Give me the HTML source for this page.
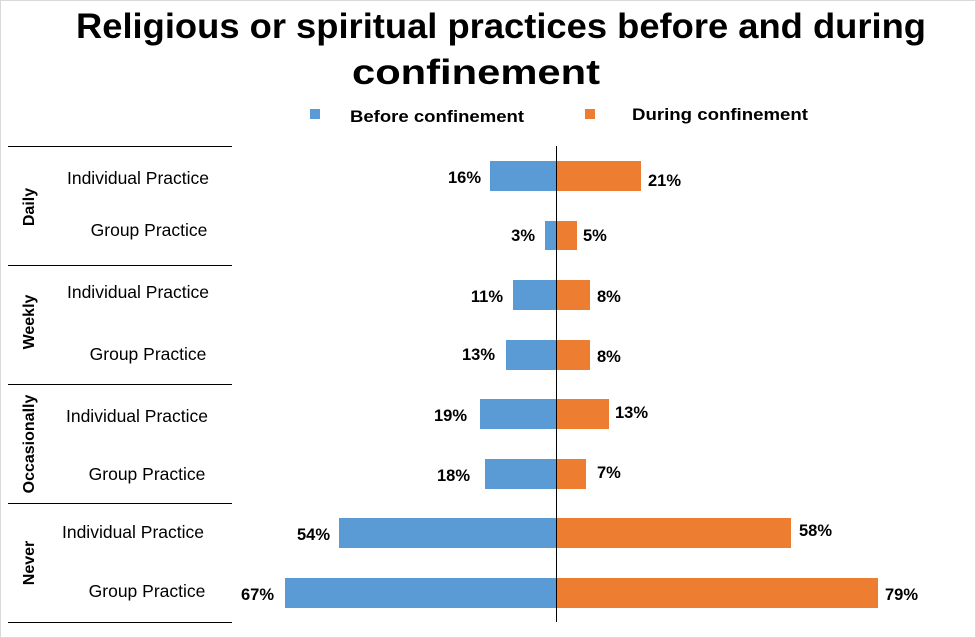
<!DOCTYPE html>
<html><head><meta charset="utf-8"><style>
body{margin:0;background:#fff}
svg{display:block;font-family:"Liberation Sans",sans-serif}
</style></head><body>
<svg width="976" height="638" viewBox="0 0 976 638">
<rect x="0.5" y="0.5" width="975" height="637" fill="#fff" stroke="#d9d9d9"/>
<text x="76" y="38" font-size="35" font-weight="bold" textLength="850" lengthAdjust="spacingAndGlyphs">Religious or spiritual practices before and during</text>
<text x="352" y="84" font-size="35" font-weight="bold" textLength="248" lengthAdjust="spacingAndGlyphs">confinement</text>
<rect x="310" y="109" width="10" height="10" fill="#5b9bd5"/>
<text x="350" y="122" font-size="17" font-weight="bold" textLength="174" lengthAdjust="spacingAndGlyphs">Before confinement</text>
<rect x="585" y="109" width="10" height="10" fill="#ed7d31"/>
<text x="632" y="120" font-size="17" font-weight="bold" textLength="176" lengthAdjust="spacingAndGlyphs">During confinement</text>
<g stroke="#000" stroke-width="1">
<line x1="8" y1="146.5" x2="232" y2="146.5"/>
<line x1="8" y1="265.5" x2="232" y2="265.5"/>
<line x1="8" y1="384.5" x2="232" y2="384.5"/>
<line x1="8" y1="503.5" x2="232" y2="503.5"/>
<line x1="8" y1="622.5" x2="232" y2="622.5"/>
</g>
<g font-size="16" font-weight="bold" text-anchor="middle">
<text transform="translate(34,207) rotate(-90)">Daily</text>
<text transform="translate(34,322) rotate(-90)">Weekly</text>
<text transform="translate(34,444) rotate(-90)">Occasionally</text>
<text transform="translate(34,563) rotate(-90)">Never</text>
</g>
<g font-size="17.5" text-anchor="middle">
<text x="138" y="184">Individual Practice</text>
<text x="149" y="236">Group Practice</text>
<text x="138" y="298">Individual Practice</text>
<text x="148" y="360">Group Practice</text>
<text x="137" y="422">Individual Practice</text>
<text x="147" y="480">Group Practice</text>
<text x="133" y="538">Individual Practice</text>
<text x="147" y="597">Group Practice</text>
</g>
<g fill="#5b9bd5">
<rect x="490" y="161" width="66" height="30"/>
<rect x="545" y="221" width="11" height="29"/>
<rect x="513" y="280" width="43" height="30"/>
<rect x="506" y="340" width="50" height="30"/>
<rect x="480" y="399" width="76" height="30"/>
<rect x="485" y="459" width="71" height="30"/>
<rect x="339" y="518" width="217" height="30"/>
<rect x="285" y="578" width="271" height="30"/>
</g>
<g fill="#ed7d31">
<rect x="556" y="161" width="85" height="30"/>
<rect x="556" y="221" width="21" height="29"/>
<rect x="556" y="280" width="34" height="30"/>
<rect x="556" y="340" width="34" height="30"/>
<rect x="556" y="399" width="53" height="30"/>
<rect x="556" y="459" width="30" height="30"/>
<rect x="556" y="518" width="235" height="30"/>
<rect x="556" y="578" width="322" height="30"/>
</g>
<line x1="556.5" y1="146" x2="556.5" y2="622" stroke="#000"/>
<g font-size="16.5" font-weight="bold" text-anchor="end">
<text x="481" y="183">16%</text>
<text x="535" y="241">3%</text>
<text x="503" y="302">11%</text>
<text x="495" y="360">13%</text>
<text x="467" y="421">19%</text>
<text x="470" y="481">18%</text>
<text x="330" y="540">54%</text>
<text x="274" y="600">67%</text>
</g>
<g font-size="16.5" font-weight="bold">
<text x="648" y="186">21%</text>
<text x="583" y="241">5%</text>
<text x="597" y="302">8%</text>
<text x="597" y="362">8%</text>
<text x="615" y="418">13%</text>
<text x="597" y="478">7%</text>
<text x="799" y="536">58%</text>
<text x="885" y="600">79%</text>
</g>
</svg>
</body></html>
